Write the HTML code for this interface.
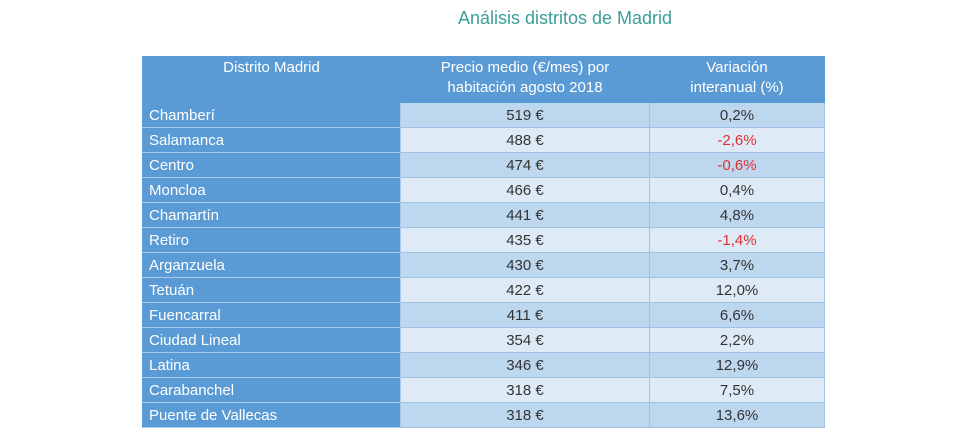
<!DOCTYPE html>
<html><head><meta charset="utf-8"><style>
body{margin:0;width:980px;height:438px;background:#fff;position:relative;overflow:hidden;font-family:"Liberation Sans","DejaVu Sans",sans-serif;}
.title{position:absolute;left:0;width:1130px;top:8px;text-align:center;color:#3a9e98;font-size:18px;}
table{position:absolute;left:142px;top:56px;border-collapse:collapse;width:683px;font-size:15px;}
td,th{padding:0;height:24px;border:1px solid #9fc3e6;}
th{background:#5b9bd5;color:#fff;font-weight:normal;line-height:20px;height:44px;vertical-align:top;padding-top:1px;border-color:#5b9bd5;}
td.n{background:#5b9bd5;color:#fff;padding-left:6px;border-color:#a9c9ea;border-left-color:#5b9bd5;}
tr:nth-child(odd) td.v{background:#bdd7ee;}
tr:nth-child(even) td.v{background:#deebf7;}
td.v{text-align:center;color:#333;}
.neg{color:#e03030 !important;}
</style></head><body>
<div class="title">Análisis distritos de Madrid</div>
<table>
<thead><tr>
<th style="width:257px">Distrito Madrid</th>
<th style="width:248px">Precio medio (€/mes) por<br>habitación agosto 2018</th>
<th>Variación<br>interanual (%)</th></tr></thead>
<tbody id="tb"></tbody></table>
<script>
const districts=["Chamberí","Salamanca","Centro","Moncloa","Chamartín","Retiro","Arganzuela","Tetuán","Fuencarral","Ciudad Lineal","Latina","Carabanchel","Puente de Vallecas"];
const prices=[519,488,474,466,441,435,430,422,411,354,346,318,318];
const variations=[0.2,-2.6,-0.6,0.4,4.8,-1.4,3.7,12.0,6.6,2.2,12.9,7.5,13.6];
const tb=document.getElementById('tb');
districts.forEach((d,i)=>{
const tr=document.createElement('tr');


const a=document.createElement('td');a.className='n';a.textContent=d;


const b=document.createElement('td');b.className='v';b.textContent=prices[i]+' €';


const c=document.createElement('td');c.className='v'+(variations[i]<0?' neg':'');
c.textContent=variations[i].toFixed(1).replace('.',',')+'%';


tr.append(a,b,c);tb.appendChild(tr);
});
</script>
</body></html>
